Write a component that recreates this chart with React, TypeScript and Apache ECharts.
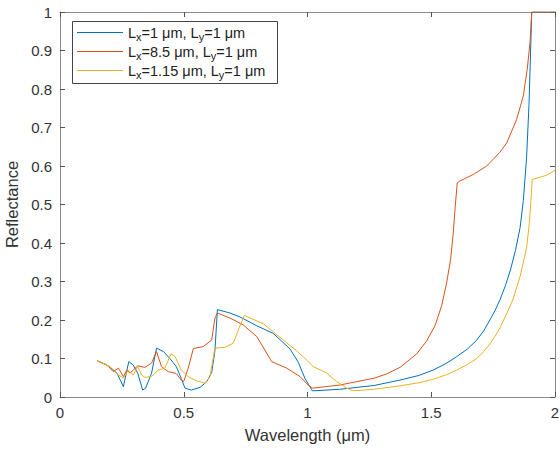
import React, { useEffect, useRef } from "react";
import * as echarts from "echarts";

// Wavelength (μm) and reflectance samples
const blueX = [0.15, 0.19, 0.23, 0.256, 0.278, 0.296, 0.314, 0.334, 0.346, 0.37, 0.39, 0.418, 0.444, 0.47, 0.49, 0.505, 0.53, 0.566, 0.593, 0.613, 0.626, 0.636, 0.687, 0.727, 0.795, 0.862, 0.929, 0.963, 0.99, 1.02, 1.13, 1.27, 1.374, 1.45, 1.508, 1.56, 1.603, 1.647, 1.684, 1.712, 1.737, 1.758, 1.778, 1.8, 1.82, 1.84, 1.859, 1.872, 1.885, 1.895, 1.906, 2.0];
const blueY = [0.094, 0.083, 0.062, 0.027, 0.092, 0.083, 0.062, 0.018, 0.023, 0.062, 0.127, 0.118, 0.1, 0.079, 0.048, 0.023, 0.018, 0.025, 0.04, 0.064, 0.12, 0.227, 0.218, 0.208, 0.185, 0.165, 0.125, 0.09, 0.048, 0.016, 0.02, 0.03, 0.044, 0.056, 0.07, 0.087, 0.105, 0.125, 0.148, 0.172, 0.2, 0.225, 0.253, 0.29, 0.33, 0.38, 0.44, 0.51, 0.62, 0.76, 1.0, 1.0];

const redX = [0.15, 0.19, 0.215, 0.236, 0.256, 0.27, 0.283, 0.296, 0.314, 0.343, 0.37, 0.39, 0.41, 0.437, 0.47, 0.49, 0.5, 0.518, 0.539, 0.579, 0.613, 0.626, 0.636, 0.687, 0.74, 0.795, 0.828, 0.855, 0.916, 0.97, 1.003, 1.021, 1.13, 1.27, 1.32, 1.374, 1.441, 1.481, 1.515, 1.542, 1.562, 1.578, 1.589, 1.597, 1.605, 1.616, 1.67, 1.724, 1.778, 1.805, 1.845, 1.872, 1.888, 1.899, 1.906, 2.0];
const redY = [0.094, 0.083, 0.066, 0.075, 0.053, 0.07, 0.062, 0.07, 0.081, 0.077, 0.088, 0.118, 0.079, 0.066, 0.061, 0.044, 0.04, 0.075, 0.126, 0.131, 0.148, 0.205, 0.218, 0.205, 0.1875, 0.157, 0.122, 0.092, 0.075, 0.053, 0.031, 0.023, 0.031, 0.049, 0.06, 0.077, 0.112, 0.145, 0.185, 0.237, 0.296, 0.357, 0.426, 0.496, 0.556, 0.561, 0.578, 0.6, 0.636, 0.66, 0.721, 0.782, 0.852, 0.921, 1.0, 1.0];

const yellowX = [0.15, 0.202, 0.236, 0.256, 0.276, 0.296, 0.314, 0.33, 0.343, 0.37, 0.397, 0.424, 0.448, 0.465, 0.49, 0.518, 0.552, 0.586, 0.606, 0.626, 0.667, 0.7, 0.727, 0.745, 0.822, 0.902, 0.956, 1.0, 1.023, 1.078, 1.118, 1.158, 1.185, 1.266, 1.374, 1.45, 1.508, 1.562, 1.603, 1.647, 1.684, 1.712, 1.737, 1.758, 1.778, 1.8, 1.83, 1.859, 1.872, 1.886, 1.896, 1.903, 1.908, 1.966, 2.0];
const yellowY = [0.094, 0.079, 0.057, 0.049, 0.07, 0.057, 0.079, 0.057, 0.051, 0.053, 0.07, 0.075, 0.112, 0.105, 0.07, 0.053, 0.042, 0.036, 0.053, 0.127, 0.129, 0.14, 0.185, 0.212, 0.19, 0.148, 0.12, 0.094, 0.079, 0.062, 0.04, 0.023, 0.016, 0.02, 0.029, 0.037, 0.046, 0.058, 0.07, 0.085, 0.1, 0.118, 0.138, 0.158, 0.18, 0.21, 0.253, 0.313, 0.35, 0.391, 0.45, 0.513, 0.565, 0.576, 0.589];

const seriesNames = ["Lx=1 μm, Ly=1 μm", "Lx=8.5 μm, Ly=1 μm", "Lx=1.15 μm, Ly=1 μm"];
const legendRich = [
  "{n|L}{s|x}{n|=1 μm, L}{s|y}{n|=1 μm}",
  "{n|L}{s|x}{n|=8.5 μm, L}{s|y}{n|=1 μm}",
  "{n|L}{s|x}{n|=1.15 μm, L}{s|y}{n|=1 μm}",
];
const seriesColors = ["#0072BD", "#D95319", "#EDB120"];
const xTitle = "Wavelength (μm)";
const yTitle = "Reflectance";

const zip = (xs: number[], ys: number[]) => xs.map((x, i) => [x, ys[i]]);

export default function App() {
  const ref = useRef<HTMLDivElement>(null);
  useEffect(() => {
    document.body.style.margin = "0";
    if (!ref.current) return;
    const chart = echarts.init(ref.current, null, { renderer: "svg" });
    const font = "'Liberation Sans', Arial, sans-serif";
    const axisLineColor = "#8a8a8a";
    const tickColor = "#555";
    const common = {
      axisLine: { show: true, onZero: false, lineStyle: { color: axisLineColor, width: 1 } },
      axisTick: { show: true, inside: true, length: 5, lineStyle: { color: tickColor } },
      splitLine: { show: false },
    };
    const data = [zip(blueX, blueY), zip(redX, redY), zip(yellowX, yellowY)];
    chart.setOption({
      animation: false,
      backgroundColor: "#fff",
      textStyle: { fontFamily: font },
      grid: { left: 60, right: 5, top: 12, bottom: 56, containLabel: false, outerBoundsMode: "none" },
      graphic: [
        {
          type: "rect", z: 3,
          shape: { x: 72.5, y: 21.5, width: 205, height: 62 },
          style: { fill: "#fff", stroke: "#444", lineWidth: 1 },
        },
      ],
      xAxis: [
        {
          type: "value", min: 0, max: 2, interval: 0.5, position: "bottom",
          ...common,
          axisLabel: { color: "#333", fontSize: 15, margin: 8, fontFamily: font },
          name: xTitle, nameLocation: "middle", nameGap: 29,
          nameTextStyle: { color: "#333", fontSize: 16.5, fontFamily: font },
        },
        {
          type: "value", min: 0, max: 2, interval: 0.5, position: "top",
          ...common, axisLabel: { show: false },
        },
      ],
      yAxis: [
        {
          type: "value", min: 0, max: 1, interval: 0.1, position: "left",
          ...common,
          axisLabel: {
            color: "#333", fontSize: 15, margin: 8, fontFamily: font,
            formatter: (v: number) => String(Number(v.toFixed(1))),
          },
          name: yTitle, nameLocation: "middle", nameGap: 34,
          nameTextStyle: { color: "#333", fontSize: 16.5, fontFamily: font },
        },
        {
          type: "value", min: 0, max: 1, interval: 0.1, position: "right",
          ...common, axisLabel: { show: false },
        },
      ],
      legend: {
        orient: "vertical", left: 77, top: 25,
        padding: 0, itemGap: 2, itemWidth: 46, itemHeight: 14,
        icon: "path://M0,0H46V1H0Z",
        backgroundColor: "transparent", borderWidth: 0,
        data: seriesNames,
        formatter: (name: string) => legendRich[seriesNames.indexOf(name)],
        textStyle: {
          color: "#222", fontFamily: font, fontSize: 14.5,
          rich: {
            n: { fontSize: 14.5, color: "#222", fontFamily: font },
            s: { fontSize: 11, color: "#222", fontFamily: font, padding: [8, 0, 0, 0] },
          },
        },
      },
      series: seriesNames.map((name, i) => ({
        name, type: "line", data: data[i], xAxisIndex: 0, yAxisIndex: 0,
        symbol: "none", showSymbol: false, smooth: false,
        lineStyle: { color: seriesColors[i], width: 1 },
        itemStyle: { color: seriesColors[i] },
      })),
    });
    return () => chart.dispose();
  }, []);
  return <div ref={ref} style={{ width: 560, height: 453 }} />;
}
